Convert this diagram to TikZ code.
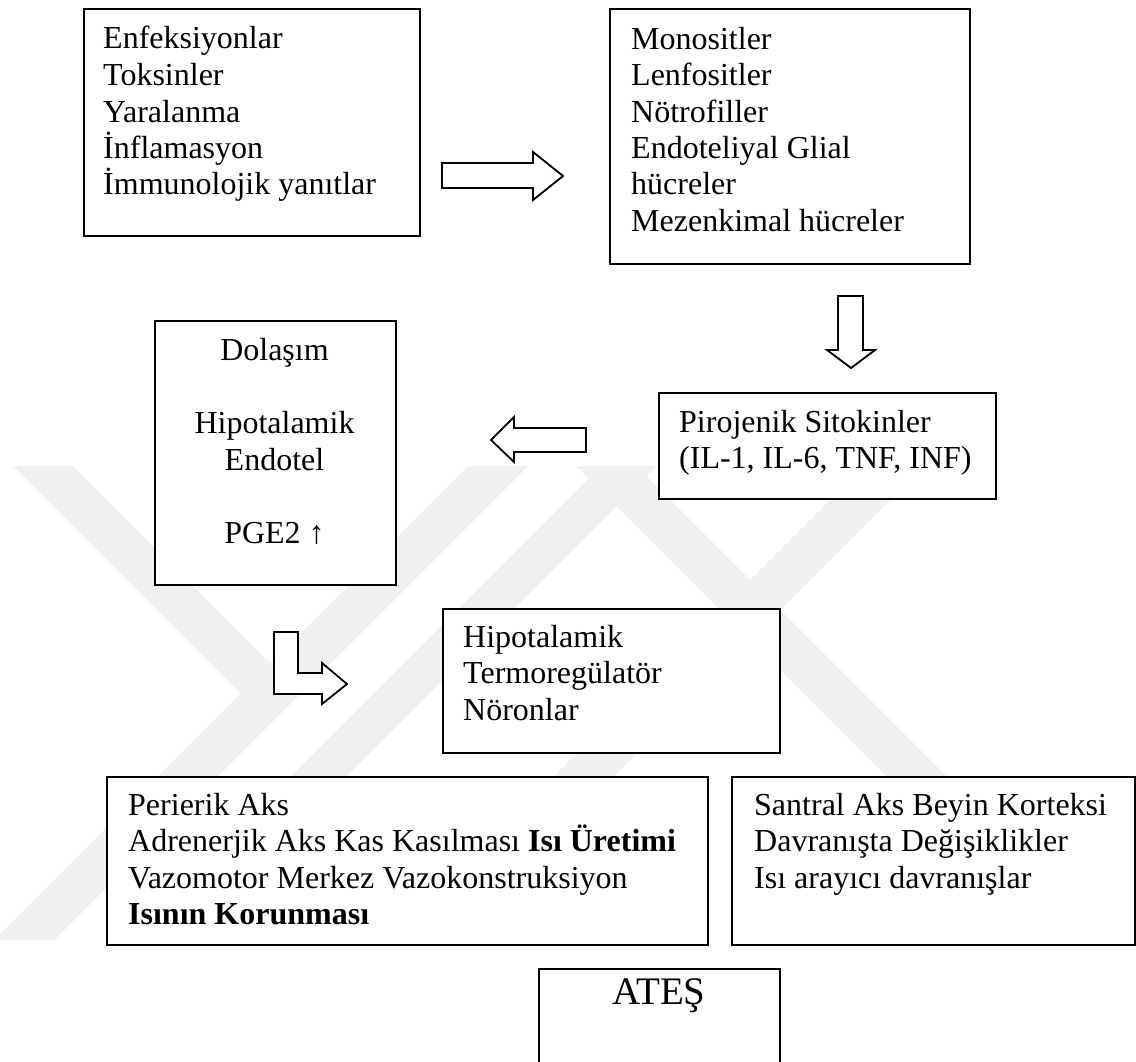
\documentclass[tikz,border=0pt]{standalone}
\usepackage{fontspec}
\setmainfont{Liberation Serif}
\begin{document}
\begin{tikzpicture}[x=1pt,y=-1pt,
  box/.style={draw,line width=1.8pt,fill=white,inner sep=0pt,anchor=north west},
  txt/.style={anchor=base west,inner sep=0pt,align=left,font=\fontsize{32}{36.5}\selectfont},
  ctxt/.style={anchor=base,inner sep=0pt,align=center,font=\fontsize{32}{36.5}\selectfont},
  barrow/.style={draw,line width=1.8pt,fill=white,line join=miter},
  wm/.style={fill=black!6,draw=none}]
\useasboundingbox (0,0) rectangle (1136,1062);
\fill[white] (0,0) rectangle (1136,1062);
% watermark
\fill[wm] (13,466) -- (73,466) -- (270.5,663.5) -- (240.5,693.5) -- cycle;
\fill[wm] (468,466) -- (528,466) -- (54,940) -- (-6,940) -- cycle;
\fill[wm] (601,466) -- (657,466) -- (183,940) -- (127,940) -- cycle;
\fill[wm] (576,466) -- (636,466) -- (1110,940) -- (1050,940) -- cycle;
\fill[wm] (864,466) -- (924,466) -- (450,940) -- (390,940) -- cycle;
% boxes (text anchors sit on the baseline of the last line)
\node[box,minimum width=336pt,minimum height=227pt] (b1) at (83,8) {};
\node[txt] (t1) at (103,195) {Enfeksiyonlar\\Toksinler\\Yaralanma\\İnflamasyon\\İmmunolojik yanıtlar};
\node[box,minimum width=360pt,minimum height=255pt] (b2) at (609,8) {};
\node[txt] (t2) at (631,231.5) {Monositler\\Lenfositler\\Nötrofiller\\Endoteliyal Glial\\hücreler\\Mezenkimal hücreler};
\node[box,minimum width=241pt,minimum height=264pt] (b3) at (154,320) {};
\node[ctxt] (t3) at (274.5,543) {Dolaşım\\\mbox{}\\Hipotalamik\\Endotel\\\mbox{}\\PGE2 ↑};
\node[box,minimum width=337pt,minimum height=106pt] (b4) at (658,392) {};
\node[txt] (t4) at (679,468.5) {Pirojenik Sitokinler\\(IL-1, IL-6, TNF, INF)};
\node[box,minimum width=337pt,minimum height=144pt] (b5) at (442,608) {};
\node[txt] (t5) at (463,720) {Hipotalamik\\Termoregülatör\\Nöronlar};
\node[box,minimum width=601pt,minimum height=168pt] (b6) at (106,776) {};
\node[txt] (t6) at (128,924.5) {Perierik Aks\\Adrenerjik Aks Kas Kasılması \textbf{Isı Üretimi}\\Vazomotor Merkez Vazokonstruksiyon\\\textbf{Isının Korunması}};
\node[box,minimum width=403pt,minimum height=168pt] (b7) at (731,776) {};
\node[txt] (t7) at (754,888) {Santral Aks Beyin Korteksi\\Davranışta Değişiklikler\\Isı arayıcı davranışlar};
\node[box,minimum width=241pt,minimum height=140pt] (b8) at (538,968) {};
\node[anchor=base,inner sep=0pt,font=\fontsize{39}{42}\selectfont] (t8) at (659,1004) {ATEŞ};
% block arrows
\draw[barrow] (442,163) -- (533,163) -- (533,152) -- (563,176) -- (533,200) -- (533,188) -- (442,188) -- cycle;
\draw[barrow] (838,296) -- (863,296) -- (863,350) -- (875,350) -- (851,368) -- (827,350) -- (838,350) -- cycle;
\draw[barrow] (586,428) -- (514,428) -- (514,417) -- (491,440) -- (514,462) -- (514,452) -- (586,452) -- cycle;
\draw[barrow] (274,632) -- (298,632) -- (298,673) -- (322,673) -- (322,663) -- (347,684) -- (322,704) -- (322,694) -- (274,694) -- cycle;
\end{tikzpicture}
\end{document}
